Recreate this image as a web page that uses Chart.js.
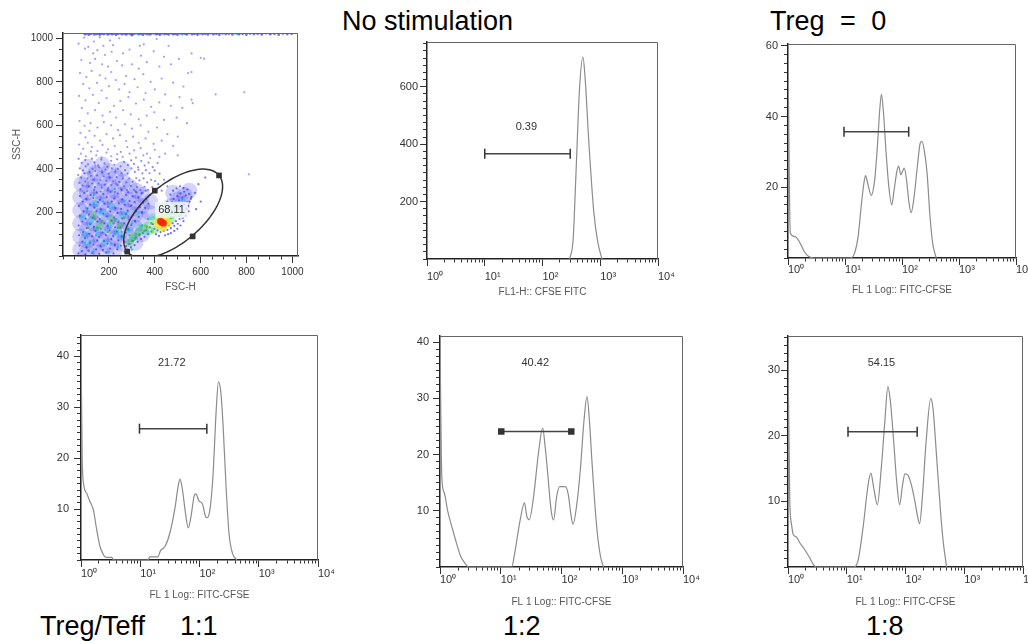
<!DOCTYPE html>
<html lang="en">
<head>
<meta charset="UTF-8">
<title>CFSE proliferation, Treg suppression</title>
<script src="https://cdn.jsdelivr.net/npm/chart.js@4.4.1/dist/chart.umd.min.js"></script>
<style>
  html, body { margin: 0; padding: 0; background: #fff; }
  body { width: 1028px; height: 644px; position: relative; overflow: hidden;
         font-family: "Liberation Sans", Arial, sans-serif; }
  canvas { position: absolute; display: block; }
  .cap { position: absolute; font-size: 27px; line-height: 1; color: #000; white-space: nowrap; }
</style>
</head>
<body>
<div class="cap" style="left:342px; top:8px;">No stimulation</div>
<div class="cap" style="left:770px; top:8px; word-spacing:8px;">Treg = 0</div>
<div class="cap" style="left:40px; top:613px;">Treg/Teff</div>
<div class="cap" style="left:180px; top:613px;">1:1</div>
<div class="cap" style="left:503px; top:613px;">1:2</div>
<div class="cap" style="left:866px; top:613px;">1:8</div>

<canvas id="scatter"></canvas>
<canvas id="noStim"></canvas>
<canvas id="treg0"></canvas>
<canvas id="ratio11"></canvas>
<canvas id="ratio12"></canvas>
<canvas id="ratio18"></canvas>

<script>
// ---------- axis ticks ----------
const logMajor = [1, 10, 100, 1000, 10000];
const logLabels = ['10⁰', '10¹', '10²', '10³', '10⁴'];
const logMinor = [2, 3, 4, 5, 6, 7, 8, 9];

// ---------- histograms (x as log10 of intensity, y = count) ----------
const noStimLog   = [2.47, 2.53, 2.58, 2.64, 2.70, 2.74, 2.80, 2.89, 2.96, 3.03];
const noStimCount = [0, 67, 299, 589, 703, 624, 415, 160, 56, 0];
const noStimGate  = [10, 302, 367];          // from, to, level
const noStimPct   = '0.39';

const treg0Log   = [0, 0.04, 0.13, 0.22, 0.29, 0.36, 0.45, 1.10, 1.17, 1.23, 1.28, 1.33, 1.36, 1.40, 1.46, 1.52, 1.57, 1.61, 1.64, 1.68, 1.72, 1.77, 1.82, 1.86, 1.91, 1.94, 1.98, 2.01, 2.04, 2.08, 2.12, 2.16, 2.21, 2.27, 2.32, 2.35, 2.39, 2.44, 2.49, 2.54, 2.60];
const treg0Count = [58.6, 7, 6, 4, 1.7, 0.5, 0, 0, 1.5, 6, 14, 21, 23.3, 21, 17.7, 22, 32, 42, 46.3, 40, 30, 20, 15, 19, 24.5, 26, 23.5, 24.5, 25.4, 22, 16, 12.8, 17, 26, 32.5, 33, 30.5, 24, 12, 4, 0];
const treg0Gate  = [9.6, 131, 35.7];
const treg0Pct   = '59.14';

const r11Log   = [0, 0.02, 0.05, 0.10, 0.15, 0.21, 0.26, 0.32, 0.38, 0.42, 0.52, 0.55, 1.13, 1.16, 1.30, 1.34, 1.42, 1.50, 1.59, 1.64, 1.67, 1.71, 1.76, 1.81, 1.86, 1.91, 1.94, 1.99, 2.05, 2.10, 2.13, 2.18, 2.23, 2.28, 2.32, 2.36, 2.40, 2.45, 2.50, 2.56, 2.63];
const r11Count = [42.2, 20, 14.5, 13, 11.5, 9.8, 6.3, 2.7, 1.0, 0.5, 0.5, 0, 0, 0.6, 0.6, 1.8, 2.7, 5.3, 10.5, 14.5, 15.9, 14, 9.5, 6.3, 8.8, 12.6, 13, 11.6, 11, 8.6, 8.3, 10.2, 17, 29, 35, 33, 26, 14, 5, 1.2, 0];
const r11Gate  = [9.7, 133, 25.8];
const r11Pct   = '21.72';

const r12Log   = [0, 0.03, 0.07, 0.13, 0.21, 0.27, 0.34, 0.41, 0.47, 1.18, 1.23, 1.32, 1.39, 1.43, 1.47, 1.54, 1.62, 1.69, 1.73, 1.77, 1.83, 1.87, 1.92, 1.97, 2.06, 2.11, 2.16, 2.19, 2.25, 2.31, 2.37, 2.42, 2.46, 2.50, 2.55, 2.59, 2.64, 2.69];
const r12Count = [39.5, 16, 13.2, 9.8, 6.6, 4.3, 1.9, 0.7, 0, 0, 2.5, 8.4, 11.4, 9, 8.4, 12.5, 20.2, 24.7, 21.5, 17, 10, 8.4, 12.5, 14.3, 14.3, 13, 9, 7.6, 11, 17.3, 26, 30.3, 26, 19, 11, 6, 2, 0];
const r12Gate  = [10.2, 145, 24.1];
const r12Pct   = '40.42';

const r18Log   = [0, 0.03, 0.06, 0.09, 0.14, 0.20, 0.28, 0.37, 0.43, 0.48, 1.11, 1.19, 1.28, 1.36, 1.41, 1.46, 1.52, 1.59, 1.65, 1.70, 1.74, 1.80, 1.85, 1.90, 1.95, 1.99, 2.04, 2.10, 2.16, 2.21, 2.24, 2.29, 2.35, 2.43, 2.47, 2.52, 2.59, 2.64, 2.70];
const r18Count = [33.5, 10, 6.5, 4.9, 4.6, 3.7, 2.7, 1.4, 0.4, 0, 0, 0.9, 6.2, 12.3, 14.3, 12, 9.5, 15.3, 22.4, 27.5, 25.5, 19, 13, 9.5, 12.5, 14.2, 14, 12.5, 10, 7.5, 6.6, 11, 19, 25.7, 24, 18, 9.2, 4, 0];
const r18Gate  = [10.5, 158, 20.6];
const r18Pct   = '54.15';

// ---------- FSC-H / SSC-H dot plot ----------
const sparseDots = [[68,975],[92,1003],[110,960],[135,985],[160,1004],[176,965],[205,990],[218,968],[245,1000],[300,1012],[335,965],[352,972],[408,996],[460,965],
[96,952],[132,930],[150,945],[183,923],[212,938],[262,930],[290,948],[340,920],[395,940],[440,915],[505,905],[560,930],
[80,900],[118,886],[140,905],[170,880],[196,870],[235,895],[258,875],[300,880],[330,860],[365,890],[420,870],[470,880],[545,840],[560,845],[600,910],[615,906],
[74,840],[102,822],[125,850],[160,830],[185,815],[210,845],[230,808],[275,826],[312,812],[350,835],[382,800],[430,815],[480,796],[525,778],
[88,790],[115,770],[148,795],[168,760],[200,780],[245,765],[268,790],[290,752],[325,775],[360,748],[400,765],[445,742],[508,730],[560,718],[565,702],[665,742],[790,752],
[70,735],[98,715],[130,740],[156,702],[190,725],[222,690],[250,712],[285,730],[318,700],[352,718],[384,685],[420,705],[470,690],[520,680],
[82,680],[108,655],[140,670],[172,645],[205,662],[232,636],[262,670],[295,650],[330,628],[365,645],[398,660],[440,625],[495,635],[540,610],
[72,620],[94,598],[120,610],[150,590],[178,615],[210,600],[240,578],[270,605],[300,585],[338,600],[372,570],[410,590],[455,560],[500,548],
[76,565],[98,545],[115,575],[138,552],[162,530],[190,560],[218,540],[248,555],[275,528],[305,548],[330,520],[360,540],[395,515],[430,530],[480,505],
[70,512],[88,492],[108,520],[126,500],[150,482],[172,510],[196,490],[225,505],[252,478],[280,500],[310,485],[338,495],[366,470],[400,488],[445,470],[500,462],
[78,470],[100,458],[122,480],[145,462],[168,452],[190,475],[210,458],[236,468],[260,455],[290,470],[318,452],[350,462],[380,450],[420,455],[810,375]];

const midDots = [[68,446],[81,428],[97,441],[109,421],[126,447],[137,430],[153,416],[167,443],[181,425],[193,409],[210,437],[224,419],[236,444],[251,412],[266,432],[283,417],[297,439],[309,423],[327,407],[341,436],[356,415],[373,429],[391,408],[412,427],
[73,402],[87,393],[99,412],[116,386],[129,400],[141,390],[158,407],[171,383],[185,397],[199,378],[213,402],[227,386],[239,400],[255,380],[270,394],[281,378],[298,402],[313,386],[329,396],[346,379],[361,394],[377,380],[399,393],[421,378],
[66,372],[79,360],[93,380],[107,356],[121,368],[133,350],[149,370],[163,348],[177,366],[189,346],[205,361],[219,343],[233,362],[245,340],[261,356],[276,338],[289,357],[303,340],[319,358],[333,347],[351,356],[367,338],[384,350],[401,344],
[71,336],[85,323],[97,342],[113,320],[127,333],[139,316],[155,334],[169,313],[183,328],[197,311],[211,326],[225,308],[237,327],[253,306],[267,320],[279,303],[295,322],[309,304],[323,316],[337,302],[355,318],[371,303],[389,316],
[76,307],[104,298],[136,303],[164,296],[196,302],[226,294],[256,301],[284,293],[316,297],[346,291],[430,300],[415,330],[440,350],[455,320]];

const denseDots = [[67,12],[72,48],[70,95],[68,140],[73,185],[69,230],[74,275],[82,22],[85,66],[88,110],[84,158],[90,205],[86,250],[92,290],
[98,8],[102,40],[96,82],[104,128],[99,172],[106,218],[101,262],[112,25],[117,60],[114,102],[119,146],[113,190],[118,236],[121,280],
[128,14],[133,52],[127,90],[135,134],[130,176],[137,222],[132,266],[144,30],[149,72],[142,115],[150,158],[146,205],[152,248],[147,292],
[158,10],[163,46],[157,88],[165,126],[160,170],[166,214],[161,258],[174,28],[179,68],[172,108],[180,150],[175,195],[181,240],[176,284],
[188,16],[194,56],[187,96],[195,138],[190,182],[197,226],[191,270],[205,34],[210,78],[203,118],[211,162],[206,205],[212,250],[207,294],
[220,12],[226,50],[219,92],[227,132],[222,176],[228,220],[223,264],[236,30],[241,72],[234,112],[242,154],[237,198],[243,242],[238,286],
[252,48],[257,90],[250,130],[258,172],[253,216],[259,260],[268,66],[273,108],[266,150],[274,192],[269,236],[275,280],
[284,124],[289,166],[282,208],[290,252],[298,142],[303,186],[296,230],[304,274],[314,160],[319,204],[312,248],[320,292],
[330,180],[335,224],[328,268],[344,200],[349,244],[342,288],[358,220],[362,262],[372,240],[380,280],[395,300],[360,300]];

const gateDots = [[268,20],[275,45],[282,30],[290,55],[296,40],[305,70],[312,50],[318,85],[325,65],[332,95],[340,78],[348,105],[355,88],[362,118],[370,100],[378,132],[385,112],[392,145],[398,125],[405,100],[412,118],[418,92],[425,110],[432,130],[440,115],[448,135],[455,120],[462,140],[470,128],[478,150],[485,138],[492,160],[500,148],[508,170],[515,190],[522,175],[530,200],[538,215],[545,230],[552,250],[560,270],[548,205],[535,185],[525,160],[512,140],[498,125],[485,115],[470,105],[458,100],[445,95],
[465,225],[475,248],[482,262],[490,240],[498,275],[505,255],[512,288],[520,268],[528,295],[535,278],[542,305],[550,285],[557,262],[540,248],[528,238],[515,228],[502,215],[488,205],[472,210],[460,200],[455,250],[468,282],[480,300],[495,310],[510,320],[525,312],[575,290],[590,330],[600,250],[620,360],[580,215]];

const topBandDots = [[96,1018],[103,1022],[112,1016],[121,1021],[128,1023],[137,1017],[146,1020],[152,1022],[160,1016],[169,1021],[178,1019],[186,1023],[195,1017],[203,1021],[214,1018],[222,1022],[231,1016],[240,1020],[249,1023],[257,1018],[268,1021],[276,1017],[285,1022],[294,1019],[302,1016],[311,1021],[322,1023],[330,1018],[339,1020],[348,1016],[357,1022],[366,1019],[377,1017],[385,1021],[394,1023],[405,1018],[413,1020],[422,1016],[431,1022],[442,1019],[451,1021],[460,1017],[471,1023],[480,1018],[490,1020],[499,1016],[510,1022],[520,1019],[531,1021],[540,1017],[552,1023],[563,1018],[574,1020],[586,1016],[597,1022],[608,1019],[619,1021],[631,1017],[642,1023],[655,1018],[668,1020],[681,1016],[695,1022],[709,1019],[722,1021],[738,1017],[752,1023],[767,1018],[783,1020],[799,1016],[815,1022],[832,1019],[848,1021],[866,1017],[884,1023],[903,1018],[921,1020],[940,1016],[958,1022],[977,1019],[996,1021]];

const cyanDots = [[120,150],[145,95],[160,200],[185,120],[210,60],[230,170],[255,110],[280,200],[300,150],[100,220],[95,60],[175,250],[135,280],[215,300],[265,250],[320,100],[345,140],[370,170],[480,180],[500,230],[520,260],[130,20],[200,20],[240,40],[300,30],[330,1020],[520,1021],[760,1019]];
const greenDots = [[150,130],[170,160],[195,110],[220,150],[240,130],[265,175],[290,95],[300,70],[315,80],[335,100],[355,115],[365,135],[385,150],[470,175],[490,200],[505,185],[140,170],[110,130]];

// density seen as coloured cores
const blueCore = [[75,30],[75,90],[75,150],[75,210],[75,270],[80,330],[105,20],[105,70],[105,120],[105,175],[105,230],[105,290],[105,350],[110,410],
[135,40],[135,95],[135,150],[135,205],[135,260],[135,320],[140,380],[165,20],[165,75],[165,130],[165,185],[165,240],[165,295],[170,355],[170,420],
[195,45],[195,100],[195,160],[195,215],[195,270],[200,330],[200,390],[225,25],[225,80],[225,135],[225,190],[225,245],[225,300],[230,365],
[255,60],[255,115],[255,170],[255,225],[255,280],[260,340],[260,400],[285,90],[285,150],[285,205],[285,260],[290,320],
[315,60],[315,130],[315,190],[315,245],[320,300],[345,100],[345,170],[345,230],[345,280],[375,200],[380,250],[470,230],[500,260],[530,280],[480,290],[520,240],[550,300]];
const cyanCore = [[95,100],[120,160],[150,120],[175,200],[200,140],[230,110],[260,190],[140,240],[110,60],[210,230],[290,120],[85,180],[250,90],[180,60],[320,200],[300,80],[330,130],[360,110],[390,180],[490,230]];
const greenCore = [[160,140],[210,170],[250,140],[290,60],[310,90],[330,110],[350,130],[370,140],[380,115],[395,165],[470,165],[480,190],[455,195],[400,120],[130,190]];
const yellowCore = [[415,145],[445,175],[455,150],[420,170],[435,130]];
const redCore = [[430,155],[438,150],[425,160]];

const gateHandles = [[280,20],[400,300],[680,370],[565,90]];   // ellipse gate corners
const gatePct = '68.11';
const gatePctAt = [473, 212];

const scatterMajors = [200, 400, 600, 800, 1000];

// ---------- layout ----------
const FONT = '"Liberation Sans", Arial, sans-serif';
Chart.defaults.font.family = FONT;
const PT = 12, PR = 25, X_H = 45;

function placeCanvas(id, area, yW) {
  const c = document.getElementById(id);
  const w = yW + (area.right - area.left) + PR;
  const h = PT + (area.bottom - area.top) + X_H;
  c.width = w; c.height = h;
  c.style.left = (area.left - yW) + 'px';
  c.style.top = (area.top - PT) + 'px';
  c.style.width = w + 'px'; c.style.height = h + 'px';
  return c;
}

function logTicks() {
  const t = [];
  logMajor.forEach((d, i) => {
    t.push({ value: d });
    if (i < logMajor.length - 1) logMinor.forEach(m => t.push({ value: d * m }));
  });
  return t;
}

function linTicks(max, step) {
  const t = [];
  for (let v = 0; v <= max + 1e-9; v += step) t.push({ value: v });
  return t;
}

const frame = {
  id: 'frame',
  afterDraw(chart) {
    const a = chart.chartArea, ctx = chart.ctx;
    ctx.save();
    ctx.strokeStyle = '#666';
    ctx.lineWidth = 1;
    ctx.beginPath();
    ctx.moveTo(a.left, a.top + 0.5);
    ctx.lineTo(a.right - 0.5, a.top + 0.5);
    ctx.lineTo(a.right - 0.5, a.bottom);
    ctx.stroke();
    ctx.restore();
  }
};

// percentage written above each gate
const gateText = {
  id: 'gateText',
  afterDatasetsDraw(chart, args, opts) {
    if (!opts.text) return;
    const ctx = chart.ctx;
    const x = chart.scales.x.getPixelForValue(opts.x);
    const y = chart.scales.y.getPixelForValue(opts.y);
    ctx.save();
    ctx.font = '11px ' + FONT;
    ctx.textAlign = 'center';
    ctx.textBaseline = 'middle';
    if (opts.box) {
      const w = ctx.measureText(opts.text).width + 6;
      ctx.fillStyle = 'rgba(235,245,240,0.85)';
      ctx.fillRect(x - w / 2, y - 8, w, 16);
    }
    ctx.fillStyle = '#333';
    ctx.fillText(opts.text, x, y);
    ctx.restore();
  }
};

function xLogScale(tickPad, title, titlePad) {
  return {
    type: 'logarithmic', min: 1, max: 10000,
    afterBuildTicks: s => { s.ticks = logTicks(); },
    afterFit: s => { s.height = X_H; },
    border: { display: true, color: '#222', width: 1.5 },
    grid: { display: true, drawOnChartArea: false, drawTicks: true, tickLength: 7, tickColor: '#333', tickWidth: 1,
      tickBorderDash: ctx => logMajor.includes(ctx.tick.value) ? [] : [3, 10] },
    ticks: { autoSkip: false, maxRotation: 0, align: 'start', padding: tickPad, color: '#333', font: { size: 11 },
      callback: v => { const i = logMajor.indexOf(v); return i >= 0 ? logLabels[i] : ''; } },
    title: { display: true, text: title, color: '#555', font: { size: 10 }, padding: { top: 0, bottom: titlePad } }
  };
}

function yLinScale(max, step, majors, tickPad, yW) {
  return {
    type: 'linear', min: 0, max: max,
    afterBuildTicks: s => { s.ticks = linTicks(max, step); },
    afterFit: s => { s.width = yW; },
    border: { display: true, color: '#222', width: 1.5 },
    grid: { display: true, drawOnChartArea: false, drawTicks: true, tickLength: 7, tickColor: '#333', tickWidth: 1,
      tickBorderDash: ctx => majors.includes(ctx.tick.value) ? [] : [0, 3, 10] },
    ticks: { autoSkip: false, padding: tickPad, color: '#333', font: { size: 11 },
      callback: v => majors.includes(v) ? String(v) : '' }
  };
}

function histogram(id, area, logX, counts, yMax, yStep, yMajors, gate, pct, pctAt, opt) {
  const yW = 50;
  const canvas = placeCanvas(id, area, yW);
  const curve = logX.map((e, i) => ({ x: Math.pow(10, e), y: counts[i] }));
  const squareEnds = opt.squareEnds;
  new Chart(canvas.getContext('2d'), {
    type: 'line',
    data: {
      datasets: [
        {
          data: [{ x: gate[0], y: gate[2] }, { x: gate[1], y: gate[2] }],
          borderColor: '#444', borderWidth: 1.5,
          pointStyle: squareEnds ? 'rect' : 'line', rotation: squareEnds ? 0 : 90,
          pointRadius: squareEnds ? 3.5 : 5, pointBorderWidth: 1.5,
          pointBorderColor: '#333', pointBackgroundColor: '#333'
        },
        {
          data: curve, borderColor: '#8c8c8c', borderWidth: 1.2, pointRadius: 0,
          cubicInterpolationMode: 'monotone', fill: false
        }
      ]
    },
    options: {
      responsive: false, animation: false, events: [],
      layout: { padding: { top: PT, right: PR, left: 0, bottom: 0 } },
      plugins: { legend: { display: false }, tooltip: { enabled: false },
        gateText: { text: pct, x: pctAt[0], y: pctAt[1] } },
      scales: {
        x: xLogScale(opt.xPad, opt.title, opt.titlePad),
        y: yLinScale(yMax, yStep, yMajors, opt.yPad, yW)
      }
    },
    plugins: [frame, gateText]
  });
}

// ---------- dot plot ----------
(function () {
  const area = { left: 63, top: 33, right: 298, bottom: 256 };
  const yW = 60;
  const canvas = placeCanvas('scatter', area, yW);
  const pts = arr => arr.map(p => ({ x: p[0], y: p[1] }));
  const dots = (arr, color, r) => ({ data: pts(arr), pointRadius: r, pointBorderWidth: 0,
    pointBackgroundColor: color, pointBorderColor: color });

  const ellipse = {
    id: 'ellipse',
    afterDatasetsDraw(chart) {
      const xs = chart.scales.x, ys = chart.scales.y, ctx = chart.ctx, a = chart.chartArea;
      const c = [(gateHandles[0][0] + gateHandles[2][0]) / 2, (gateHandles[0][1] + gateHandles[2][1]) / 2];
      const u = [gateHandles[2][0] - c[0], gateHandles[2][1] - c[1]];
      const v = [gateHandles[1][0] - c[0], gateHandles[1][1] - c[1]];
      ctx.save();
      ctx.beginPath();
      ctx.rect(a.left, a.top, a.right - a.left, a.bottom - a.top);
      ctx.clip();
      ctx.beginPath();
      for (let k = 0; k <= 120; k++) {
        const t = k / 120 * Math.PI * 2;
        const px = xs.getPixelForValue(c[0] + u[0] * Math.cos(t) + v[0] * Math.sin(t));
        const py = ys.getPixelForValue(c[1] + u[1] * Math.cos(t) + v[1] * Math.sin(t));
        if (k === 0) ctx.moveTo(px, py); else ctx.lineTo(px, py);
      }
      ctx.strokeStyle = '#333';
      ctx.lineWidth = 1.5;
      ctx.stroke();
      ctx.restore();
    }
  };

  const axisX = {
    type: 'linear', min: 0, max: 1024,
    afterBuildTicks: s => { s.ticks = linTicks(1000, 50); },
    afterFit: s => { s.height = X_H; },
    border: { display: true, color: '#222', width: 1.5 },
    grid: { display: true, drawOnChartArea: false, drawTicks: true, tickLength: 7, tickColor: '#333', tickWidth: 1,
      tickBorderDash: ctx => scatterMajors.includes(ctx.tick.value) ? [] : [3, 10] },
    ticks: { autoSkip: false, maxRotation: 0, padding: 3, color: '#333', font: { size: 10 },
      callback: v => scatterMajors.includes(v) ? String(v) : '' },
    title: { display: true, text: 'FSC-H', color: '#555', font: { size: 10 }, padding: { top: 0, bottom: 8 } }
  };
  const axisY = yLinScale(1024, 50, scatterMajors, 3, yW);
  axisY.afterBuildTicks = s => { s.ticks = linTicks(1000, 50); };
  axisY.ticks.font = { size: 10 };
  axisY.title = { display: true, text: 'SSC-H', color: '#555', font: { size: 10 }, padding: { top: 8, bottom: 0 } };

  new Chart(canvas.getContext('2d'), {
    type: 'scatter',
    data: {
      datasets: [
        { data: pts(gateHandles), pointStyle: 'rect', pointRadius: 4, pointBorderWidth: 0,
          pointBackgroundColor: '#333' },
        dots(redCore, 'rgba(240,40,20,0.9)', 3.5),
        dots(yellowCore, 'rgba(235,225,20,0.75)', 4),
        dots(greenDots, 'rgba(40,190,60,0.8)', 1.3),
        dots(greenCore, 'rgba(60,200,70,0.35)', 4),
        dots(cyanDots, 'rgba(0,190,220,0.8)', 1.2),
        dots(cyanCore, 'rgba(0,190,220,0.3)', 3.5),
        dots(topBandDots, 'rgba(40,40,230,0.7)', 1.3),
        dots(gateDots, 'rgba(50,50,255,0.7)', 1.1),
        dots(denseDots, 'rgba(50,50,255,0.7)', 1.1),
        dots(midDots, 'rgba(60,60,255,0.6)', 1.1),
        dots(sparseDots, 'rgba(80,80,255,0.55)', 1.1),
        dots(blueCore, 'rgba(40,40,235,0.2)', 8)
      ]
    },
    options: {
      responsive: false, animation: false, events: [],
      layout: { padding: { top: PT, right: PR, left: 0, bottom: 0 } },
      plugins: { legend: { display: false }, tooltip: { enabled: false },
        gateText: { text: gatePct, x: gatePctAt[0], y: gatePctAt[1], box: true } },
      scales: { x: axisX, y: axisY }
    },
    plugins: [frame, ellipse, gateText]
  });
})();

// ---------- histograms ----------
histogram('noStim', { left: 427, top: 42, right: 658, bottom: 259 }, noStimLog, noStimCount,
  756, 25, [200, 400, 600], noStimGate, noStimPct, [52.5, 461],
  { title: 'FL1-H:: CFSE FITC', xPad: 4, titlePad: 6, yPad: 2 });
histogram('treg0', { left: 788, top: 44, right: 1016, bottom: 258 }, treg0Log, treg0Count,
  60.5, 2.5, [20, 40, 60], treg0Gate, treg0Pct, [34, 66.7],
  { title: 'FL 1 Log:: FITC-CFSE', xPad: -2, titlePad: 7, yPad: 3 });
histogram('ratio11', { left: 81, top: 335, right: 318, bottom: 560 }, r11Log, r11Count,
  44.2, 1.25, [10, 20, 30, 40], r11Gate, r11Pct, [34, 38.8],
  { title: 'FL 1 Log:: FITC-CFSE', xPad: 0, titlePad: 4, yPad: 5 });
histogram('ratio12', { left: 440, top: 336, right: 683, bottom: 567 }, r12Log, r12Count,
  41.1, 1.25, [10, 20, 30, 40], r12Gate, r12Pct, [37, 36.3],
  { title: 'FL 1 Log:: FITC-CFSE', xPad: -1, titlePad: 4, yPad: 4, squareEnds: true });
histogram('ratio18', { left: 788, top: 336, right: 1023, bottom: 567 }, r18Log, r18Count,
  35.2, 1.25, [10, 20, 30], r18Gate, r18Pct, [39, 31.1],
  { title: 'FL 1 Log:: FITC-CFSE', xPad: -1, titlePad: 4, yPad: 1 });
</script>
</body>
</html>
